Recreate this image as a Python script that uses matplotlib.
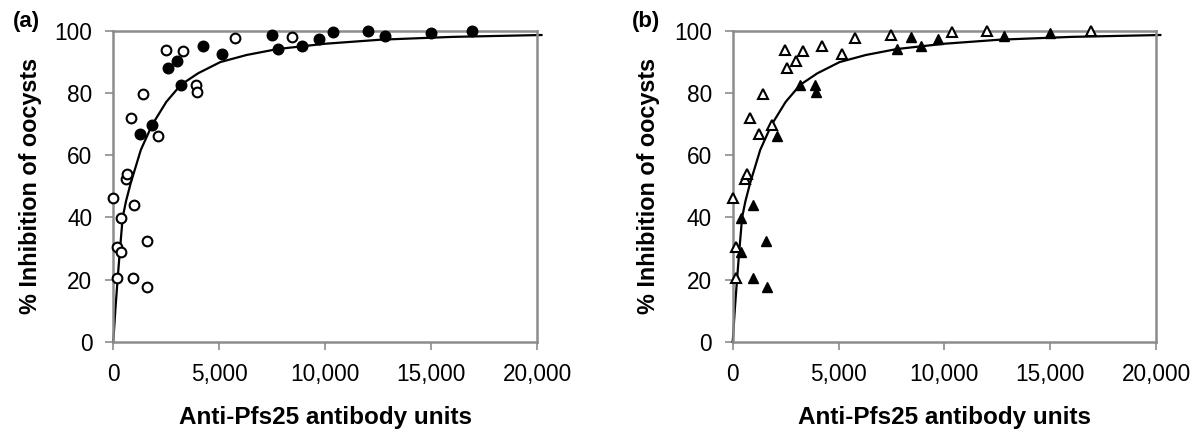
import numpy as np
import matplotlib
matplotlib.use("Agg")
import matplotlib.pyplot as plt
from matplotlib.ticker import FuncFormatter

plt.rcParams["font.family"] = ["Liberation Sans", "DejaVu Sans"]

# ── Data ────────────────────────────────────────────────────────
antibody_units = [
    0, 158, 158, 378, 378, 600, 662, 978, 946, 820,
    1419, 1577, 1608, 2097, 2476, 3312, 3895, 3942, 5756, 8437,
    1262, 1845, 2586, 2996, 3186, 4226, 5141, 7491, 7775, 8912,
    9698, 10378, 12034, 12820, 14981, 16906,
]
inhibition = [
    46.1, 20.4, 30.4, 29.0, 39.8, 52.4, 53.9, 44.0, 20.5, 71.9,
    79.8, 32.3, 17.7, 66.0, 93.8, 93.4, 82.5, 80.2, 97.5, 98.1,
    66.8, 69.7, 88.1, 90.3, 82.6, 95.0, 92.4, 98.5, 94.1, 95.2,
    97.3, 99.6, 100.0, 98.3, 99.3, 100.0,
]
# group membership in each panel: True = filled marker
filled_a = [False] * 20 + [True] * 16
filled_b = [
    False, False, False, True, True, False, False, True, True, False,
    False, True, True, True, False, False, True, True, False, True,
    False, False, False, False, True, False, False, False, True, True,
    True, False, False, True, True, False,
]

# fitted curve
curve_x = [0, 50, 100, 208, 300, 444, 600, 822, 1300, 1830, 2500, 3187,
           4000, 5047, 6300, 7758, 10000, 12616, 16000, 20200]
curve_y = [0, 5.3, 10.5, 20.4, 28.4, 40.0, 45.2, 51.0, 61.7, 69.7, 77.1,
           82.6, 86.3, 89.9, 92.2, 94.1, 95.8, 97.1, 98.0, 98.6]

x_ticks = [0, 5000, 10000, 15000, 20000]
y_ticks = [0, 20, 40, 60, 80, 100]

SPINE = "#8c8c8c"

fig = plt.figure(figsize=(12, 4.38), dpi=100)
ax_a = fig.add_axes([0.0944, 0.2195, 0.3533, 0.7105])
ax_b = fig.add_axes([0.6106, 0.2195, 0.3528, 0.7105])

x = np.array(antibody_units)
y = np.array(inhibition)

# (axes, filled mask, marker, open size, filled size, tag, ylabel x)
panels = [
    (ax_a, np.array(filled_a), "o", 7.0, 7.6, "(a)", -0.168),
    (ax_b, np.array(filled_b), "^", 6.8, 7.4, "(b)", -0.172),
]

for ax, fmask, marker, ms_open, ms_fill, tag, ylab_x in panels:
    ax.plot(curve_x, curve_y, color="black", lw=1.6, clip_on=False, zorder=2)
    ax.plot(x[~fmask], y[~fmask], ls="none", marker=marker, ms=ms_open,
            mfc="white", mec="black", mew=1.5, clip_on=False, zorder=3)
    ax.plot(x[fmask], y[fmask], ls="none", marker=marker, ms=ms_fill,
            mfc="black", mec="black", mew=1.0, clip_on=False, zorder=3)

    ax.set_xlim(0, 20000)
    ax.set_ylim(0, 100)
    ax.set_xticks(x_ticks)
    ax.set_yticks(y_ticks)
    ax.xaxis.set_major_formatter(FuncFormatter(lambda v, p: f"{int(v):,}"))
    ax.tick_params(direction="out", length=6, width=1.2, color=SPINE,
                   labelsize=16.3)
    ax.tick_params(axis="x", pad=9)
    ax.tick_params(axis="y", pad=9)
    for spine in ax.spines.values():
        spine.set_edgecolor(SPINE)
        spine.set_linewidth(1.8)

    ax.set_xlabel("Anti-Pfs25 antibody units", fontsize=17.5, fontweight="bold")
    ax.xaxis.set_label_coords(0.5, -0.207)
    ax.set_ylabel("% Inhibition of oocysts", fontsize=16.8, fontweight="bold")
    ax.yaxis.set_label_coords(ylab_x, 0.5)
    ax.text(-0.205, 1.03, tag, transform=ax.transAxes, fontsize=16,
            fontweight="bold", ha="center", va="center")

fig.savefig("out.png", dpi=100, facecolor="white")
